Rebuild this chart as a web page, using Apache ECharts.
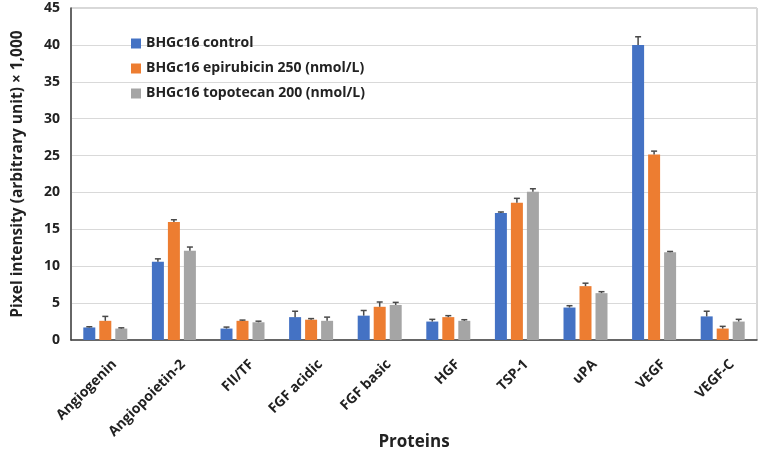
<!DOCTYPE html>
<html><head><meta charset="utf-8">
<script src="https://cdn.jsdelivr.net/npm/echarts@6/dist/echarts.min.js"></script>
<style>html,body{margin:0;padding:0;background:#fff}#c{width:764px;height:456px}</style>
</head><body><div id="c"></div>
<script>
const categories = ['Angiogenin','Angiopoietin-2','FII/TF','FGF acidic','FGF basic','HGF','TSP-1','uPA','VEGF','VEGF-C'];
const seriesNames = ['BHGc16 control','BHGc16 epirubicin 250 (nmol/L)','BHGc16 topotecan 200 (nmol/L)'];
const controlVals    = [1.7, 10.6, 1.55, 3.1, 3.3, 2.5, 17.2, 4.4, 40.0, 3.2];
const controlErr     = [0.1, 0.4, 0.2, 0.8, 0.7, 0.3, 0.15, 0.25, 1.1, 0.7];
const epirubicinVals = [2.6, 16.0, 2.6, 2.75, 4.5, 3.1, 18.6, 7.3, 25.15, 1.55];
const epirubicinErr  = [0.6, 0.3, 0.1, 0.15, 0.65, 0.2, 0.6, 0.4, 0.45, 0.3];
const topotecanVals  = [1.55, 12.1, 2.4, 2.6, 4.75, 2.6, 20.1, 6.35, 11.9, 2.5];
const topotecanErr   = [0.1, 0.5, 0.15, 0.5, 0.35, 0.15, 0.4, 0.2, 0.1, 0.3];
const yTicks = [0, 5, 10, 15, 20, 25, 30, 35, 40, 45];

const colors = ['#4472C4', '#ED7D31', '#A5A5A5'];
const vals = [controlVals, epirubicinVals, topotecanVals];
const errs = [controlErr, epirubicinErr, topotecanErr];
const BAR_W = 12, BAR_GAP = 4;
const FONT = '"Open Sans", "Liberation Sans", sans-serif';

const chart = echarts.init(document.getElementById('c'), null, {renderer: 'canvas'});

const barSeries = seriesNames.map((n, i) => ({
  name: n, type: 'bar', data: vals[i], barWidth: BAR_W, barGap: (BAR_GAP / BAR_W * 100) + '%',
  itemStyle: {color: colors[i]}, z: 2
}));

const errSeries = seriesNames.map((n, si) => ({
  type: 'custom', name: n + ' err', z: 3, silent: true,
  data: categories.map((c, k) => [k, vals[si][k], vals[si][k] + errs[si][k]]),
  renderItem: function (params, api) {
    const k = api.value(0);
    const lo = api.coord([k, api.value(1)]);
    const hi = api.coord([k, api.value(2)]);
    const off = (si - 1) * (BAR_W + BAR_GAP);
    const x = lo[0] + off;
    const cap = 3;
    const st = {stroke: '#4a4a4a', lineWidth: 1.5};
    return {type: 'group', children: [
      {type: 'line', shape: {x1: x, y1: lo[1], x2: x, y2: hi[1]}, style: st},
      {type: 'line', shape: {x1: x - cap, y1: hi[1], x2: x + cap, y2: hi[1]}, style: st}
    ]};
  }
}));

chart.setOption({
  animation: false,
  backgroundColor: '#fff',
  textStyle: {fontFamily: FONT},
  grid: {left: 71, right: 7, top: 8, bottom: 116, show: true, borderColor: '#b0b0b0', borderWidth: 1,
    containLabel: false, outerBoundsMode: 'none'},
  legend: {
    data: seriesNames, orient: 'vertical', left: 126, top: 31,
    itemWidth: 10, itemHeight: 10, itemGap: 10,
    icon: 'rect',
    textStyle: {fontFamily: FONT, fontSize: 14, fontWeight: 'bold', color: '#222', lineHeight: 15}
  },
  xAxis: {
    type: 'category', data: categories,
    name: 'Proteins', nameLocation: 'middle', nameGap: 94, nameMoveOverlap: false,
    nameTextStyle: {fontFamily: FONT, fontSize: 17, fontWeight: 'bold', color: '#222'},
    axisLine: {lineStyle: {color: '#404040', width: 1.5}},
    axisTick: {show: false},
    axisLabel: {rotate: 45, fontFamily: FONT, fontSize: 14, fontWeight: 'bold', color: '#222',
      margin: 13, interval: 0, verticalAlign: 'top', lineHeight: 26}
  },
  yAxis: {
    type: 'value', min: 0, max: 45, interval: 5,
    name: 'Pixel intensity (arbitrary unit) × 1,000', nameLocation: 'middle', nameGap: 45,
    nameTextStyle: {fontFamily: FONT, fontSize: 15.5, fontWeight: 'bold', color: '#222'},
    axisLine: {show: true, lineStyle: {color: '#404040', width: 1.5}},
    axisTick: {show: false},
    axisLabel: {fontFamily: FONT, fontSize: 14, fontWeight: 'bold', color: '#222', margin: 11,
      formatter: v => yTicks.includes(v) ? String(v) : ''},
    splitLine: {lineStyle: {color: '#d9d9d9', width: 1}}
  },
  series: barSeries.concat(errSeries)
});
</script></body></html>
